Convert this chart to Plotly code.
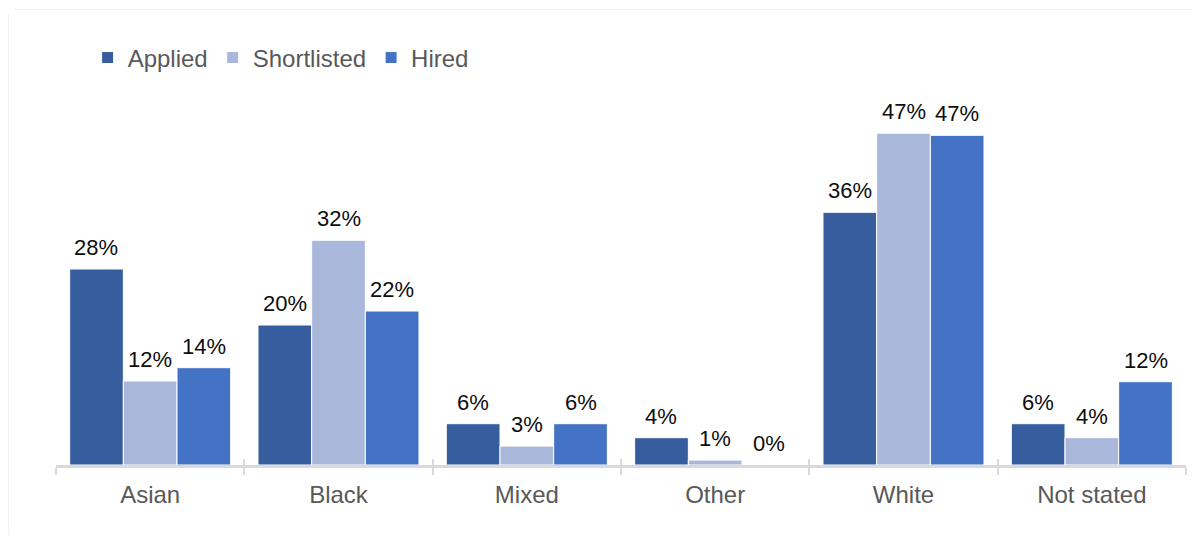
import plotly.graph_objects as go

categories = ["Asian", "Black", "Mixed", "Other", "White", "Not stated"]
applied = [28.0, 20.0, 5.9, 3.9, 36.1, 5.9]
shortlisted = [12.0, 32.1, 2.7, 0.7, 47.4, 3.9]
hired = [13.9, 22.0, 5.9, 0.0, 47.1, 11.9]
series_names = ["Applied", "Shortlisted", "Hired"]
series_colors = ["#365E9F", "#A9B7DB", "#4472C4"]

FONT = "Liberation Sans, Arial, sans-serif"
GREY = "#595959"
AXIS = "#D9D9D9"
BARGAP = 0.145
# the page body adds an 8px margin, so the figure is 16px smaller than the window
W, H = 1184, 527
L, R, T, B = 48, 6, 107, 70

fig = go.Figure()
all_series = [applied, shortlisted, hired]
for name, vals, col in zip(series_names, all_series, series_colors):
    fig.add_trace(go.Bar(
        name=name, x=categories, y=vals,
        marker=dict(color=col, line=dict(color="white", width=1)),
        hoverinfo="skip",
    ))

# invisible trace for the inner half of the crossing tick marks
fig.add_trace(go.Scatter(x=categories, y=[0] * len(categories), xaxis="x2",
                         mode="markers", marker=dict(opacity=0),
                         showlegend=False, hoverinfo="skip"))

# data labels
plot_w = W - L - R
plot_h = H - T - B
cat_w = plot_w / len(categories)
bar_w = cat_w * (1 - BARGAP) / len(all_series)
annotations = []
for si, vals in enumerate(all_series):
    shift = (si - (len(all_series) - 1) / 2) * bar_w
    for c, v in zip(categories, vals):
        annotations.append(dict(
            x=c, y=v, xref="x", yref="y", text=f"{round(v)}%",
            showarrow=False, yanchor="bottom", xshift=shift, yshift=7,
            font=dict(family=FONT, size=22, color="#0D0D0D"),
        ))

# faint chart-area border (top and left edges only are in view)
border = dict(color="#F2F2F2", width=1)
shapes = [
    dict(type="line", xref="paper", yref="paper", layer="below",
         x0=(6 - L) / plot_w, x1=1 + R / plot_w,
         y0=1 + (T - 1.5) / plot_h, y1=1 + (T - 1.5) / plot_h, line=border),
    dict(type="line", xref="paper", yref="paper", layer="below",
         x0=-(L - 0.5) / plot_w, x1=-(L - 0.5) / plot_w,
         y0=-B / plot_h, y1=1 + (T - 6) / plot_h, line=border),
]

fig.update_layout(
    width=W, height=H,
    margin=dict(l=L, r=R, t=T, b=B),
    paper_bgcolor="white", plot_bgcolor="white",
    barmode="group", bargap=BARGAP, bargroupgap=0,
    font=dict(family=FONT, color=GREY),
    showlegend=True,
    legend=dict(orientation="h", x=0.028, xanchor="left", y=1.163, yanchor="middle",
                font=dict(family=FONT, size=24, color=GREY),
                bgcolor="rgba(0,0,0,0)", itemclick=False, traceorder="normal"),
    xaxis=dict(type="category", categoryorder="array", categoryarray=categories,
               showline=True, linecolor=AXIS, linewidth=2.5,
               ticks="outside", tickson="boundaries", ticklen=7, tickwidth=2, tickcolor=AXIS,
               tickfont=dict(family=FONT, size=24, color=GREY),
               ticklabelstandoff=6, showgrid=False, zeroline=False, fixedrange=True),
    xaxis2=dict(type="category", categoryorder="array", categoryarray=categories,
                overlaying="x", matches="x", anchor="y", side="bottom",
                ticks="inside", tickson="boundaries", ticklen=6, tickwidth=2, tickcolor=AXIS,
                showticklabels=False, showline=False, showgrid=False, zeroline=False),
    yaxis=dict(range=[0, 50], visible=False, showgrid=False, zeroline=False, fixedrange=True),
    annotations=annotations,
    shapes=shapes,
)

fig.write_html("out.html")
